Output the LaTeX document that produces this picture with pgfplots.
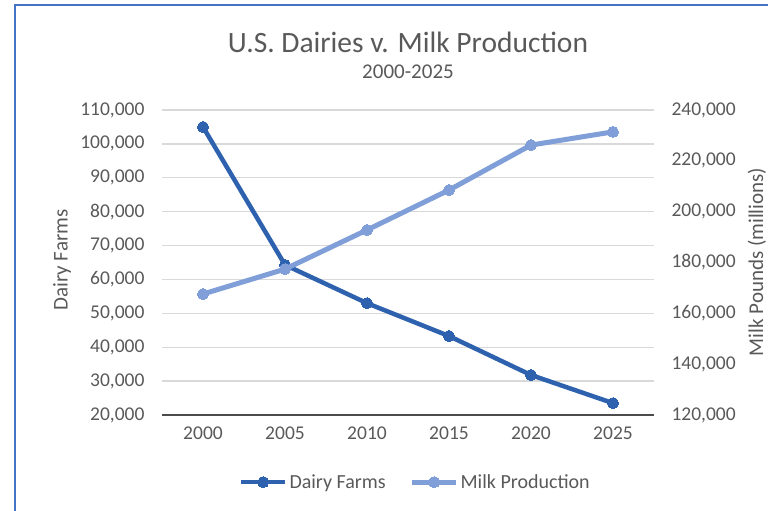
\documentclass[border=0pt]{standalone}
\usepackage{pgfplots}
\pgfplotsset{compat=1.18}
\usepackage{fontspec}
\setmainfont{Carlito}

\definecolor{dairy}{HTML}{2E62AE}
\definecolor{milk}{HTML}{809FD8}
\definecolor{txt}{HTML}{595959}
\definecolor{gridc}{HTML}{D9D9D9}
\definecolor{framec}{HTML}{4472C4}

\pgfplotsset{
  base/.style={
    scale only axis,
    width=492bp, height=305bp,
    at={(162bp,-415bp)}, anchor=south west,
    xmin=-0.5, xmax=5.5,
    axis line style={draw=none},
    major tick length=0pt,
    scaled y ticks=false,
    tick label style={font=\fontsize{19.5bp}{22bp}\selectfont, text=txt},
  },
}

\begin{document}
\begin{tikzpicture}
\path[use as bounding box] (0,0) rectangle (768bp,-511bp);
\draw[framec, line width=2bp] (15bp,-511bp) -- (15bp,-5bp) -- (768bp,-5bp);

% left axis: dairy farms
\begin{axis}[base,
    ymin=20000, ymax=110000,
    ytick={20000,30000,...,110000},
    yticklabels={{20,000},{30,000},{40,000},{50,000},{60,000},{70,000},{80,000},{90,000},{100,000},{110,000}},
    ymajorgrids, grid style={gridc, line width=1.4bp},
    xtick={0,...,5},
    xticklabels={2000,2005,2010,2015,2020,2025},
    xticklabel style={yshift=-8bp},
    yticklabel style={xshift=-14bp},
    legend style={at={(0.515,-0.22)}, anchor=center, draw=none, fill=none,
      font=\fontsize{20bp}{23bp}\selectfont, text=txt,
      column sep=0pt, inner sep=0pt, nodes={inner xsep=2bp},
      /tikz/every even column/.append style={column sep=22bp}},
    legend columns=2,
    legend cell align=left,
    legend image code/.code={\draw[#1, mark repeat=2, mark phase=2]
      plot coordinates {(0bp,0bp) (22bp,0bp) (44bp,0bp)};},
  ]
  \draw[gray!60!black, line width=1.6bp] (axis cs:-0.5,20000) -- (axis cs:5.5,20000);
  \addplot[dairy, line width=4.5bp, mark=*, mark size=5.5bp, mark options={fill=dairy, draw=dairy, line width=0pt}]
    coordinates {(0,105000) (1,64300) (2,53000) (3,43300) (4,31800) (5,23500)};
  \addlegendentry{Dairy Farms}
  \addlegendimage{milk, line width=5bp, mark=*, mark size=5.5bp, mark options={fill=milk, draw=milk, line width=0pt}}
  \addlegendentry{Milk Production}
\end{axis}

% right axis: milk production
\begin{axis}[base,
    ymin=120000, ymax=240000,
    ytick={120000,140000,...,240000},
    yticklabels={{120,000},{140,000},{160,000},{180,000},{200,000},{220,000},{240,000}},
    axis y line*=right,
    axis x line=none,
    yticklabel style={xshift=14bp},
  ]
  \addplot[milk, line width=5bp, mark=*, mark size=5.5bp, mark options={fill=milk, draw=milk, line width=0pt}]
    coordinates {(0,167600) (1,177400) (2,192800) (3,208500) (4,226200) (5,231400)};
\end{axis}

\node[txt, font=\fontsize{29.5bp}{34bp}\selectfont] at (408bp,-42bp) {U.S. Dairies v. Milk Production};
\node[txt, font=\fontsize{21bp}{24bp}\selectfont] at (408bp,-72bp) {2000-2025};
\node[txt, rotate=90, font=\fontsize{21bp}{24bp}\selectfont] at (62bp,-260bp) {Dairy Farms};
\node[txt, rotate=90, font=\fontsize{21bp}{24bp}\selectfont] at (757bp,-262bp) {Milk Pounds (millions)};
\end{tikzpicture}
\end{document}
